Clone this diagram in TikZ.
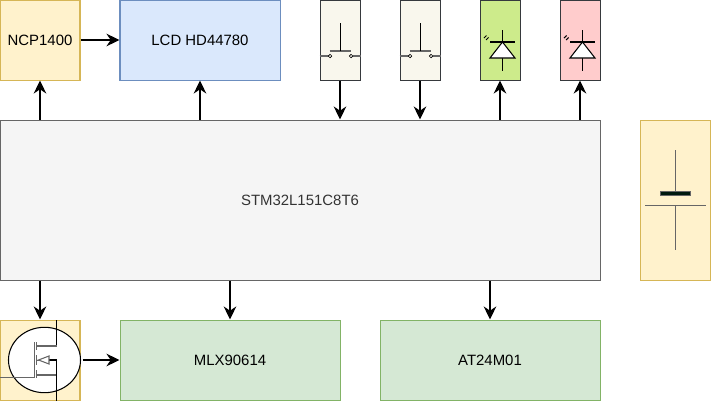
\documentclass[tikz,border=0pt]{standalone}
\usepackage{fontspec}
\setmainfont{Liberation Sans}
\usetikzlibrary{arrows.meta}
\definecolor{cyellow}{HTML}{FFF2CC}
\definecolor{cyellowd}{HTML}{D6B656}
\definecolor{cblue}{HTML}{DAE8FC}
\definecolor{cblued}{HTML}{6C8EBF}
\definecolor{cgreen}{HTML}{D5E8D4}
\definecolor{cgreend}{HTML}{82B366}
\definecolor{cgrey}{HTML}{F5F5F5}
\definecolor{cgreyd}{HTML}{666666}
\definecolor{cdark}{HTML}{36393D}
\definecolor{cswitch}{HTML}{F9F7ED}
\definecolor{cledg}{HTML}{CDEB8B}
\definecolor{cledr}{HTML}{FFCCCC}
\definecolor{ccell}{HTML}{001A0E}
\tikzset{
  every picture/.style={line width=0.57pt},
  box/.style n args={4}{draw=#2, fill=#1, minimum width=#3 cm, minimum height=#4 cm, inner sep=0pt, font=\fontsize{8.5}{10}\selectfont, text depth=0pt, text height=6pt},
  part/.style n args={2}{draw=cdark, fill=#1, minimum width=#2 cm, minimum height=1.6cm, inner sep=0pt},
  arrow/.style={-{Stealth[length=2.6mm, width=2.5mm]}, draw=black, line width=1.3pt},
  sym/.style={draw=black, line width=0.6pt},
  symg/.style={draw=cgreyd, line width=0.95pt},
}
\begin{document}
\begin{tikzpicture}
  \useasboundingbox (0,0) rectangle (14.22,-8.02);
  \node[box={cyellow}{cyellowd}{1.6}{1.6}] (ncp) at (0.8,-0.8) {NCP1400};
  \node[box={cblue}{cblued}{3.2}{1.6}] (lcd) at (4,-0.8) {LCD HD44780};
  \node[part={cswitch}{0.8}] (swa) at (6.8,-0.8) {};
  \node[part={cswitch}{0.8}] (swb) at (8.4,-0.8) {};
  \node[part={cledg}{0.8}] (ledg) at (10,-0.8) {};
  \node[part={cledr}{0.8}] (ledr) at (11.6,-0.8) {};
  \node[box={cgrey}{cgreyd}{12}{3.2}, text=black!80] (mcu) at (6,-4) {STM32L151C8T6};
  \node[box={cyellow}{cyellowd}{1.4}{3.2}] (bat) at (13.5,-4) {};
  \node[box={cyellow}{cyellowd}{1.6}{1.6}] (mos) at (0.8,-7.2) {};
  \node[box={cgreen}{cgreend}{4.4}{1.6}] (mlx) at (4.6,-7.2) {MLX90614};
  \node[box={cgreen}{cgreend}{4.4}{1.6}] (at) at (9.8,-7.2) {AT24M01};
  % push buttons
  \foreach \n in {swa,swb} {
    \begin{scope}[shift={(\n.center)}]
      \draw[symg] (\n.west |- 0,-0.32) -- (-0.23,-0.32) (0.25,-0.32) -- (\n.east |- 0,-0.32);
      \draw[sym, line width=0.4pt] (-0.2,-0.32) circle (0.035) (0.22,-0.32) circle (0.035);
      \draw[symg] (-0.21,-0.22) -- (0.22,-0.22);
      \draw[sym] (0.01,0.34) -- (0.01,-0.22);
    \end{scope}
  }
  % leds
  \foreach \n in {ledg,ledr} {
    \begin{scope}[shift={(\n.center)}]
      \draw[sym] (0.05,0.2) -- (0.05,-0.61) (-0.2,-0.04) -- (0.3,-0.04);
      \draw[sym, fill=white] (0.05,-0.04) -- (0.3,-0.36) -- (-0.2,-0.36) -- cycle;
      \draw[sym, line width=0.6pt] (-0.28,0) -- (-0.23,0.05) (-0.32,0.04) -- (-0.27,0.09);
    \end{scope}
  }
  % cell
  \draw[draw=cgreyd] (12.9,-4.1) -- (14.12,-4.1) (13.51,-4.1) -- (13.51,-5);
  \draw[draw=cgreyd] (13.51,-3) -- (13.51,-3.82);
  \draw[draw=cgreyd, fill=ccell] (13.21,-3.82) rectangle (13.81,-3.91);
  % transistor
  \begin{scope}[shift={(mos.center)}]
    \draw[sym, fill=white] (0.09,0) ellipse (0.72 and 0.654);
    \draw[sym] (0.33,0.8) -- (0.33,0.28);
    \draw[symg] (0.33,0.28) -- (-0.08,0.28) (0.33,-0.3) -- (-0.08,-0.3);
    \draw[sym] (0.33,-0.82) -- (0.33,0) -- (0.18,0);
    \draw[symg, line width=0.6pt] (0.18,0.08) -- (0.18,-0.08) -- (-0.03,0) -- cycle;
    \draw[symg] (-0.8,-0.35) -- (-0.11,-0.35) (-0.11,0.36) -- (-0.11,-0.35);
    \draw[symg] (-0.07,0.36) -- (-0.07,0.2) (-0.07,0.1) -- (-0.07,-0.1) (-0.07,-0.2) -- (-0.07,-0.36);
    \draw[symg, line width=0.4pt] (-0.07,0) -- (-0.03,0);
  \end{scope}
  % connectors
  \draw[arrow] (ncp) -- (lcd);
  \draw[arrow] (mos.east) ++(0.04,0) -- (mlx.west);
  \foreach \a in {ncp,lcd,ledg,ledr} { \draw[arrow] (mcu.north -| \a) -- (\a.south); }
  \foreach \a in {swa,swb} { \draw[arrow] (\a.south) -- (mcu.north -| \a); }
  \foreach \a in {mos,mlx,at} { \draw[arrow] (mcu.south -| \a) -- (\a.north); }
\end{tikzpicture}
\end{document}
